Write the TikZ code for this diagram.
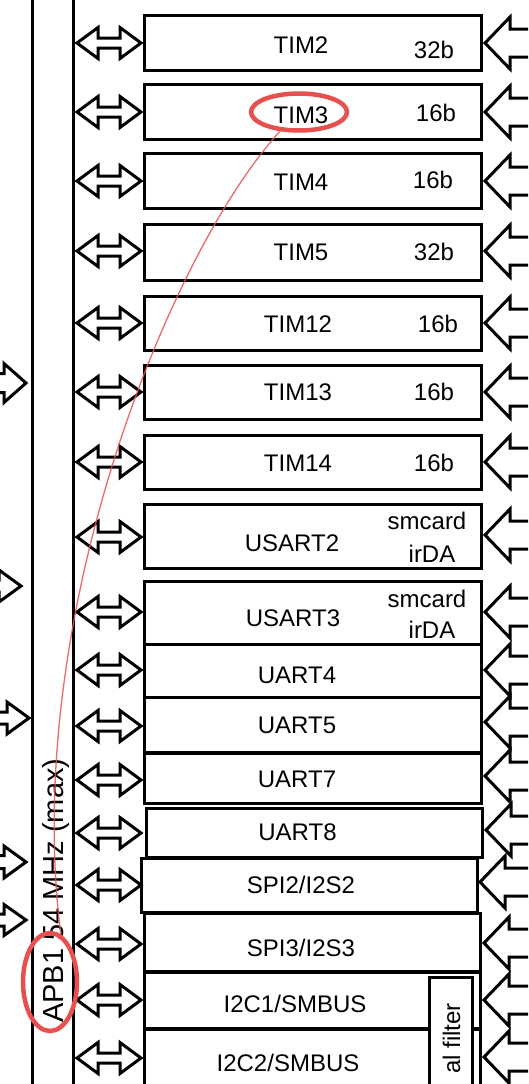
\documentclass[tikz,border=0pt]{standalone}
\usepackage{fontspec}
\setmainfont{Liberation Sans}
\usetikzlibrary{shapes.geometric}
\definecolor{annot}{RGB}{232,80,80}
\newcommand{\unitbox}[5]{\node[box, anchor=north west, minimum width={#4-#2}, minimum height={#5-#3}] (#1) at (#2,#3) {};}
\begin{document}
\begin{tikzpicture}[x=1pt,y=-1pt,
  box/.style={draw, line width=3pt, fill=white, inner sep=0pt, outer sep=0pt},
  blockarrow/.style={draw, line width=3pt, fill=white, line join=miter},
  busline/.style={line width=3pt},
  lbl/.style={font=\fontsize{24}{28}\selectfont, inner sep=0pt, anchor=base},
  ring/.style={draw=annot, line width=4.5pt, ellipse, inner sep=0pt, outer sep=0pt},
  annotline/.style={draw=annot, line width=1.3pt, opacity=0.85}]
\useasboundingbox (0,0) rectangle (528,1084);
\begin{scope}
\clip (0,0) rectangle (528,1084);
% bus lines
\coordinate (busAtop) at (32,-10);
\coordinate (busAbot) at (32,1100);
\coordinate (busBtop) at (73,-10);
\coordinate (busBbot) at (73,1100);
\draw[busline] (busAtop) -- (busAbot);
\draw[busline] (busBtop) -- (busBbot);
% left single arrows (into bus)
\foreach \yy/\tx/\hh/\sh in {383/26/19.5/9.5, 586/21/16/6, 718/29/16/6, 862/26/16/6.5, 920/26/15.5/6}{
  \draw[blockarrow] (\tx,\yy) -- (\tx-22,\yy-\hh) -- (\tx-22,\yy-\sh) -- (-20,\yy-\sh) -- (-20,\yy+\sh) -- (\tx-22,\yy+\sh) -- (\tx-22,\yy+\hh) -- cycle;
}
% boxes
\unitbox{tim2}{144}{15}{481}{70}
\unitbox{tim3}{144}{84}{481}{139}
\unitbox{tim4}{144}{153}{481}{208}
\unitbox{tim5}{144}{224}{481}{280}
\unitbox{tim12}{144}{296}{481}{350}
\unitbox{tim13}{144}{365}{481}{419}
\unitbox{tim14}{144}{435}{481}{489}
\unitbox{usart2}{144}{504}{481}{568}
\unitbox{usart3}{144}{581}{481}{644}
\unitbox{uart4}{144}{644}{481}{697}
\unitbox{uart5}{144}{697}{481}{752}
\unitbox{uart7}{144}{753}{481}{803}
\unitbox{uart8}{146}{808}{482}{857}
\unitbox{spi2}{141}{858}{477}{912}
\unitbox{spi3}{144}{913}{480}{971}
\unitbox{i2c1}{144}{972}{480}{1028}
\unitbox{i2c2}{144}{1029}{480}{1110}
\unitbox{filt}{429}{977}{472}{1110}
% double arrows between bus and boxes
\foreach \yy in {43,112,181,251,323,392,462,537,612,670,726,780,833,885,944,1000,1058}{
  \draw[blockarrow] (77,\yy) -- (98,\yy-15.5) -- (98,\yy-5) -- (120,\yy-5) -- (120,\yy-15.5) -- (141,\yy) -- (120,\yy+15.5) -- (120,\yy+5) -- (98,\yy+5) -- (98,\yy+15.5) -- cycle;
}
% right arrows into boxes
\foreach \yy/\tx in {43/485,112/485,181/485,251/485,323/485,392/485,462/485,535/485,612/485,670/485,722/485,776/485,830/486,882/480,943/484,1000/484,1057/484}{
  \draw[blockarrow] (\tx,\yy) -- (\tx+25,\yy-26) -- (\tx+25,\yy-14) -- (545,\yy-14) -- (545,\yy+14) -- (\tx+25,\yy+14) -- (\tx+25,\yy+26) -- cycle;
}
% labels
\node[lbl] (tim2l) at (301,53) {TIM2};
\node[lbl] (tim2b) at (434,58) {32b};
\node[lbl] (tim3l) at (301,123) {TIM3};
\node[lbl] (tim3b) at (436,121) {16b};
\node[lbl] (tim4l) at (301,190) {TIM4};
\node[lbl] (tim4b) at (433,188) {16b};
\node[lbl] (tim5l) at (301,260) {TIM5};
\node[lbl] (tim5b) at (434,260) {32b};
\node[lbl] (tim12l) at (298,332) {TIM12};
\node[lbl] (tim12b) at (438,332) {16b};
\node[lbl] (tim13l) at (298,400) {TIM13};
\node[lbl] (tim13b) at (434,400) {16b};
\node[lbl] (tim14l) at (298,471) {TIM14};
\node[lbl] (tim14b) at (434,471) {16b};
\node[lbl] (usart2l) at (292,551) {USART2};
\node[lbl] (usart2s) at (427,529) {smcard};
\node[lbl] (usart2i) at (432,562) {irDA};
\node[lbl] (usart3l) at (293,626) {USART3};
\node[lbl] (usart3s) at (427,607) {smcard};
\node[lbl] (usart3i) at (432,638) {irDA};
\node[lbl] (uart4l) at (297,683) {UART4};
\node[lbl] (uart5l) at (297,733) {UART5};
\node[lbl] (uart7l) at (297,787) {UART7};
\node[lbl] (uart8l) at (297.5,840) {UART8};
\node[lbl] (spi2l) at (301,893) {SPI2/I2S2};
\node[lbl] (spi3l) at (301,956) {SPI3/I2S3};
\node[lbl] (i2c1l) at (295,1012) {I2C1/SMBUS};
\node[lbl] (i2c2l) at (288,1071) {I2C2/SMBUS};
\node[lbl, rotate=90, anchor=base east] (filtl) at (460,1003) {al filter};
\node[font=\fontsize{29}{34}\selectfont, inner sep=0pt, rotate=90, anchor=base west] (apbl) at (63,1023) {APB1 54 MHz (max)};
% annotations
\node[ring, minimum width=96pt, minimum height=37pt] (ring3) at (299,112) {};
\node[ring, minimum width=54pt, minimum height=98pt] (ring1) at (50,982) {};
\draw[annotline] (ring3.-135) .. controls (170,250) and (20,620) .. (ring1.76);
\end{scope}
\end{tikzpicture}
\end{document}
